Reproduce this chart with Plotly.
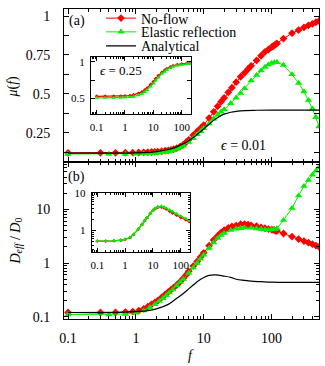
import plotly.graph_objects as go

# ---- panel (a): mu(f), eps = 0.01 ----
f_noflow = [0.1, 0.3, 0.5, 0.7, 0.9, 1.1, 1.3, 1.5, 1.7, 1.9, 2.1, 2.4, 2.7, 3.0,
            3.3, 3.6, 4, 4.5, 5, 5.5, 6, 7, 8, 9, 10, 12, 14, 16, 18, 20, 23, 26,
            30, 35, 40, 45, 50, 60, 70, 80, 90, 100, 105, 110, 115, 120, 150, 200,
            250, 300, 350, 400, 450, 500]
mu_noflow = [0.122, 0.122, 0.122, 0.123, 0.123, 0.124, 0.125, 0.126, 0.127, 0.128,
             0.130, 0.132, 0.135, 0.138, 0.141, 0.145, 0.152, 0.163, 0.175, 0.19,
             0.205, 0.235, 0.26, 0.28, 0.30, 0.345, 0.385, 0.42, 0.45, 0.475, 0.51,
             0.54, 0.575, 0.61, 0.635, 0.66, 0.68, 0.715, 0.745, 0.77, 0.785, 0.80,
             0.806, 0.812, 0.818, 0.824, 0.855, 0.89, 0.91, 0.927, 0.94, 0.95, 0.96,
             0.968]

f_elastic = [0.1, 0.4, 0.7, 1.0, 1.3, 1.6, 1.9, 2.2, 2.5, 2.8, 3.1, 3.5, 4, 4.5, 5,
             6, 7, 8, 9, 10, 12, 14, 16, 18, 20, 25, 30, 35, 40, 50, 60, 70, 80, 90,
             100, 110, 120, 150, 200, 250, 300, 350, 400, 450, 500]
mu_elastic = [0.114, 0.114, 0.114, 0.115, 0.116, 0.117, 0.119, 0.121, 0.124, 0.127,
              0.131, 0.136, 0.145, 0.155, 0.167, 0.19, 0.215, 0.24, 0.26, 0.28,
              0.31, 0.34, 0.365, 0.385, 0.40, 0.44, 0.475, 0.505, 0.535, 0.585,
              0.62, 0.65, 0.672, 0.688, 0.697, 0.702, 0.703, 0.685, 0.625, 0.57,
              0.515, 0.46, 0.405, 0.35, 0.29]

f_analytic = [0.1, 0.3, 0.5, 1, 1.5, 2, 3, 4, 5, 6, 7, 8, 10, 12, 14, 17, 20, 25,
              30, 40, 60, 100, 200, 500]
mu_analytic = [0.12, 0.12, 0.12, 0.122, 0.125, 0.13, 0.143, 0.16, 0.18, 0.2, 0.22,
               0.24, 0.275, 0.305, 0.33, 0.355, 0.37, 0.382, 0.388, 0.393, 0.395,
               0.396, 0.396, 0.396]

# ---- panel (b): D_eff / D_0 ----
d_noflow = [0.12, 0.12, 0.12, 0.122, 0.125, 0.13, 0.14, 0.155, 0.17, 0.185, 0.2,
            0.23, 0.26, 0.29, 0.32, 0.35, 0.39, 0.45, 0.52, 0.6, 0.7, 0.88, 1.07,
            1.3, 1.55, 2.1, 2.7, 3.2, 3.7, 4.1, 4.5, 4.8, 5.0, 5.3, 5.3, 5.2, 5.05,
            4.85, 4.6, 4.45, 4.3, 4.2, 4.15, 4.1, 4.0, 3.95, 3.55, 3.1, 2.8, 2.57,
            2.4, 2.25, 2.12, 2.0]
d_elastic = [0.11, 0.11, 0.112, 0.118, 0.13, 0.15, 0.17, 0.195, 0.22, 0.25, 0.28,
             0.32, 0.38, 0.44, 0.5, 0.65, 0.82, 1.0, 1.2, 1.42, 1.9, 2.4, 2.9, 3.3,
             3.6, 4.1, 4.35, 4.45, 4.55, 4.5, 4.4, 4.3, 4.2, 4.15, 4.2, 4.25, 4.4,
             6.3, 10.5, 18, 27, 35, 44, 52, 60]
f_d_analytic = [0.1, 0.5, 1, 1.5, 2, 3, 4, 5, 6, 7, 8, 9, 10, 12, 15, 20, 25, 30,
                40, 50, 70, 100, 200, 500]
d_analytic = [0.12, 0.12, 0.125, 0.13, 0.14, 0.17, 0.22, 0.27, 0.33, 0.39, 0.45,
              0.5, 0.54, 0.59, 0.6, 0.57, 0.54, 0.5, 0.475, 0.46, 0.45, 0.44,
              0.435, 0.435]

# ---- insets: eps = 0.25 ----
f_in = [0.1, 0.2, 0.4, 0.7, 1, 1.5, 2, 3, 4, 5, 6, 8, 10, 12, 15, 20, 25, 30, 40,
        50, 70, 100, 150, 200]
mu_in_noflow = [0.53, 0.53, 0.53, 0.532, 0.535, 0.54, 0.55, 0.57, 0.59, 0.615,
                0.64, 0.69, 0.73, 0.77, 0.81, 0.855, 0.885, 0.905, 0.93, 0.945,
                0.96, 0.97, 0.978, 0.983]
mu_in_elastic = [0.51, 0.51, 0.51, 0.512, 0.515, 0.52, 0.525, 0.545, 0.565, 0.59,
                 0.615, 0.665, 0.705, 0.745, 0.785, 0.835, 0.865, 0.89, 0.915,
                 0.935, 0.95, 0.96, 0.97, 0.975]
d_in_noflow = [0.52, 0.52, 0.53, 0.55, 0.58, 0.65, 0.78, 1.1, 1.45, 1.85, 2.2, 2.9,
               3.5, 3.9, 4.25, 4.3, 4.1, 3.8, 3.3, 2.95, 2.6, 2.25, 1.95, 1.75]
d_in_elastic = [0.52, 0.52, 0.53, 0.55, 0.58, 0.65, 0.78, 1.1, 1.45, 1.85, 2.2,
                2.9, 3.5, 3.95, 4.35, 4.5, 4.3, 4.0, 3.6, 3.25, 2.85, 2.45, 2.1,
                1.85]

RED = "#ff0000"
GREEN = "#00ee00"
FONT = "Liberation Serif"

W, H = 325, 366
L, R, T, B = 64, 6, 3, 47


def px(x):
    return (x - L) / (W - L - R)


def py(y):
    return (H - B - y) / (H - T - B)


fig = go.Figure()

# main panel (a)
fig.add_trace(go.Scatter(
    x=f_noflow, y=mu_noflow, name="No-flow", xaxis="x", yaxis="y",
    mode="lines+markers", line=dict(color=RED, width=1),
    marker=dict(symbol="diamond", size=6, color=RED),
    error_y=dict(type="constant", value=0.012, color=RED, thickness=1, width=0),
    legend="legend",
))
fig.add_trace(go.Scatter(
    x=f_elastic, y=mu_elastic, name="Elastic reflection", xaxis="x", yaxis="y",
    mode="lines+markers", line=dict(color=GREEN, width=1),
    marker=dict(symbol="triangle-up", size=6.5, color=GREEN),
    legend="legend2",
))
fig.add_trace(go.Scatter(
    x=f_analytic, y=mu_analytic, name="Analytical", xaxis="x", yaxis="y",
    mode="lines", line=dict(color="black", width=1.2, shape="spline"),
    legend="legend3",
))

# main panel (b)
fig.add_trace(go.Scatter(
    x=f_noflow, y=d_noflow, xaxis="x2", yaxis="y2", showlegend=False,
    mode="lines+markers", line=dict(color=RED, width=1),
    marker=dict(symbol="diamond", size=6, color=RED),
    error_y=dict(type="percent", value=7, color=RED, thickness=1, width=0),
))
fig.add_trace(go.Scatter(
    x=f_elastic, y=d_elastic, xaxis="x2", yaxis="y2", showlegend=False,
    mode="lines+markers", line=dict(color=GREEN, width=1),
    marker=dict(symbol="triangle-up", size=6.5, color=GREEN),
))
fig.add_trace(go.Scatter(
    x=f_d_analytic, y=d_analytic, xaxis="x2", yaxis="y2", showlegend=False,
    mode="lines", line=dict(color="black", width=1.2, shape="spline"),
))

# insets
for ys_red, ys_green, xa, ya, err in [
        (mu_in_noflow, mu_in_elastic, "x3", "y3",
         dict(type="constant", value=0.015, color=RED, thickness=1, width=0)),
        (d_in_noflow, d_in_elastic, "x4", "y4",
         dict(type="percent", value=4, color=RED, thickness=1, width=0))]:
    fig.add_trace(go.Scatter(
        x=f_in, y=ys_red, xaxis=xa, yaxis=ya, showlegend=False,
        mode="lines+markers", line=dict(color=RED, width=1.2),
        marker=dict(symbol="diamond", size=3, color=RED), error_y=err,
    ))
    fig.add_trace(go.Scatter(
        x=f_in, y=ys_green, xaxis=xa, yaxis=ya, showlegend=False,
        mode="lines+markers", line=dict(color=GREEN, width=1.2),
        marker=dict(symbol="triangle-up", size=4, color=GREEN),
    ))

ax_common = dict(
    showline=True, linecolor="black", linewidth=1, mirror="allticks",
    ticks="inside", tickcolor="black", showgrid=False, zeroline=False,
)
minor_log = dict(ticks="inside", ticklen=3, tickcolor="black", dtick="D1",
                 showgrid=False)
xrange = [-1.06, 2.699]
tickfont = dict(family=FONT, size=14, color="black")
infont = dict(family=FONT, size=11, color="black")

fig.update_layout(
    width=W, height=H,
    margin=dict(l=L, r=R, t=T, b=B),
    paper_bgcolor="white", plot_bgcolor="white",
    font=dict(family=FONT, color="black"),
    xaxis=dict(**ax_common, type="log", range=xrange, domain=[0, 1], anchor="y",
               dtick=1, ticklen=5, showticklabels=False, minor=minor_log),
    yaxis=dict(**ax_common, range=[0.06, 1.045], domain=[0.505, 1], anchor="x",
               dtick=0.25, tick0=0, ticklen=5, tickfont=tickfont,
               ticklabelstandoff=10,
               minor=dict(ticks="inside", ticklen=5, dtick=0.125,
                          tickcolor="black", showgrid=False)),
    xaxis2=dict(**ax_common, type="log", range=xrange, domain=[0, 1], anchor="y2",
                dtick=1, ticklen=5, tickfont=tickfont, ticklabelstandoff=6,
                minor=minor_log),
    yaxis2=dict(**ax_common, type="log", range=[-1.042, 1.874], domain=[0, 0.505],
                anchor="x2", dtick=1, ticklen=5, tickfont=tickfont,
                ticklabelstandoff=10, minor=minor_log),
    xaxis3=dict(**ax_common, type="log", range=[-1.2, 2.33],
                domain=[px(91), px(191)], anchor="y3", dtick=1, ticklen=4,
                tickfont=infont, ticklabelstandoff=3,
                minor=dict(minor_log, ticklen=2)),
    yaxis3=dict(**ax_common, range=[0.29, 1.07], domain=[py(110), py(51.5)],
                anchor="x3", dtick=0.5, tick0=0, ticklen=4, tickfont=infont,
                ticklabelstandoff=3,
                minor=dict(ticks="inside", ticklen=4, dtick=0.25,
                           tickcolor="black", showgrid=False)),
    xaxis4=dict(**ax_common, type="log", range=[-1.2, 2.33],
                domain=[px(91.7), px(190)], anchor="y4", dtick=1, ticklen=4,
                tickfont=infont, ticklabelstandoff=3,
                minor=dict(minor_log, ticklen=2)),
    yaxis4=dict(**ax_common, type="log", range=[-0.585, 1.0],
                domain=[py(251), py(191)], anchor="x4", dtick=1, ticklen=4,
                tickfont=infont, ticklabelstandoff=3,
                minor=dict(minor_log, ticklen=2)),
)

legend_base = dict(bgcolor="rgba(0,0,0,0)", borderwidth=0, xanchor="left",
                   yanchor="middle", x=px(101),
                   font=dict(family=FONT, size=14, color="black"))
fig.update_layout(
    legend=dict(legend_base, y=py(12.7)),
    legend2=dict(legend_base, y=py(26.7)),
    legend3=dict(legend_base, y=py(41)),
)

ann_font = dict(family=FONT, size=14, color="black")
annotations = [
    dict(text="(a)", x=px(77), y=py(15)),
    dict(text="(b)", x=px(76), y=py(174)),
    dict(text="<i>ϵ</i> = 0.25", x=px(121), y=py(66), font=dict(ann_font, size=13)),
    dict(text="<i>ϵ</i> = 0.01", x=px(243), y=py(142)),
    dict(text="<i>μ</i>(<i>f</i>)", x=px(12), y=py(82), textangle=-90),
    dict(text="<i>D<sub>eff</sub></i> / <i>D</i><sub>0</sub>", x=px(16), y=py(240),
         textangle=-90),
    dict(text="<i>f</i>", x=px(190.7), y=py(356)),
]
for a in annotations:
    a.setdefault("font", ann_font)
    fig.add_annotation(xref="paper", yref="paper", showarrow=False,
                       xanchor="center", yanchor="middle", **a)

# drop the browser's default body margin so the figure sits at the page corner
fig.write_html("out.html", config={"staticPlot": True},
               post_script="document.body.style.margin = '0';")
